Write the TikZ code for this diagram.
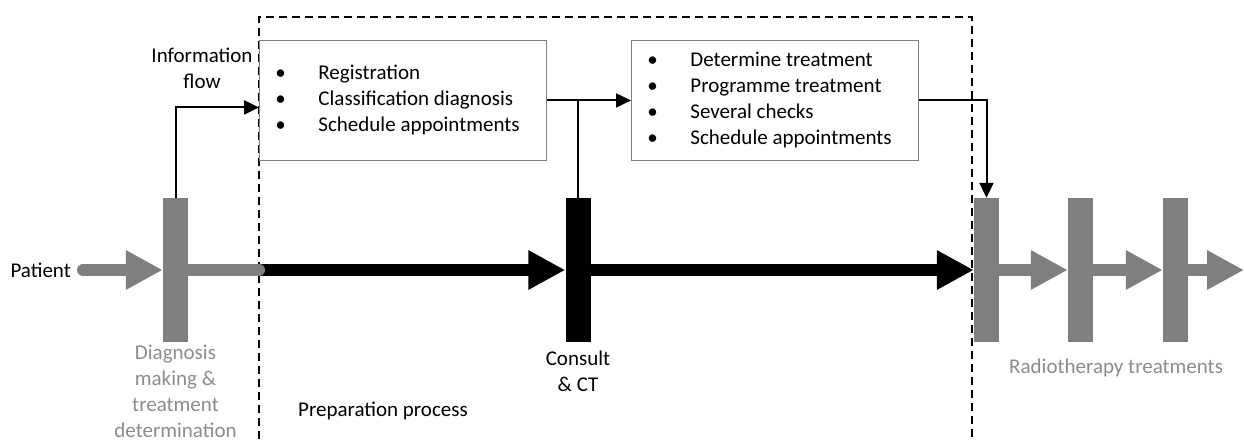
\documentclass[tikz,border=0pt]{standalone}
\usepackage{fontspec}
\setmainfont{Carlito}
\usetikzlibrary{arrows.meta,calc}
\definecolor{bargray}{HTML}{7F7F7F}
\definecolor{labelgray}{HTML}{8C8C8C}
\definecolor{boxgray}{HTML}{7F7F7F}
\begin{document}
\begin{tikzpicture}[x=1pt,y=-1pt,
  font=\fontsize{21}{26}\selectfont,
  bar/.style={rectangle,inner sep=0pt,minimum width=25pt,minimum height=144pt},
  graybar/.style={bar,fill=bargray},
  blackbar/.style={bar,fill=black},
  taskbox/.style={rectangle,draw=boxgray,line width=0.9pt,fill=white,
    anchor=north west,inner xsep=16pt,inner ysep=0pt,minimum height=120pt},
  info/.style={line width=2pt,-{Triangle[length=15pt,width=14pt]}},
  flow/.style={line width=12pt,-{Triangle[length=37pt,width=37pt]}},
  grayflow/.style={flow,draw=bargray,color=bargray},
  blackflow/.style={flow,draw=black},
  graylabel/.style={text=labelgray,align=center,inner sep=0pt},
  plainlabel/.style={align=center,inner sep=0pt},
]
\useasboundingbox (0,0) rectangle (1244,439);

% preparation process frame
\draw[line width=1.1pt,dash pattern=on 8pt off 5pt]
  (259,439) -- (259,17) -- (972,17) -- (972,439);

% task boxes
\node[taskbox,minimum width=287pt] (box1) at (259,40) {%
  \makebox[255pt][l]{\begin{tabular}{@{}p{43pt}@{}l@{}}
  \textbullet & Registration\\
  \textbullet & Classification diagnosis\\
  \textbullet & Schedule appointments
  \end{tabular}}};
\node[taskbox,minimum width=287pt] (box2) at (631,40) {%
  \makebox[255pt][l]{\begin{tabular}{@{}p{43pt}@{}l@{}}
  \textbullet & Determine treatment\\
  \textbullet & Programme treatment\\
  \textbullet & Several checks\\
  \textbullet & Schedule appointments
  \end{tabular}}};

% process bars
\node[graybar]  (bar1) at (175.5,270) {};
\node[blackbar] (bar2) at (578,270) {};
\node[graybar]  (bar3) at (986.5,270) {};
\node[graybar]  (bar4) at (1080.5,270) {};
\node[graybar]  (bar5) at (1175.5,270) {};

% patient flow
\coordinate (start) at (83,270);
\coordinate (handover) at (259,270);
\coordinate (out) at (1244,270);
\draw[blackflow] (handover) -- (bar2.west);
\draw[blackflow] (bar2.east) -- (bar3.west);
\draw[grayflow,line cap=round] (start) -- (bar1.west);
\draw[line width=12pt,draw=bargray,line cap=round] (bar1.east) -- (handover);
\draw[grayflow] (bar3.east) -- (bar4.west);
\draw[grayflow] (bar4.east) -- (bar5.west);
\draw[grayflow] (bar5.east) -- (out);

% information flow
\draw[info] (bar1.north) |- ([yshift=-7pt]box1.west);
\draw[info] (box1.east) -- (box2.west);
\draw[line width=2pt] (bar2.north) -- (bar2.north |- box1.east);
\draw[info] (box2.east) -| (bar3.north);

% labels
\node[plainlabel,anchor=east] (patient) at (71,270) {Patient};
\node[plainlabel] (infolabel) at (202,68) {Information\\flow};
\node[graylabel,anchor=north] (diaglabel) at (175.5,345)
  {Diagnosis\\making \&\\treatment\\determination};
\node[plainlabel,anchor=north] (consultlabel) at (578,351) {Consult\\\& CT};
\node[plainlabel,anchor=west] (preplabel) at (298,411) {Preparation process};
\node[graylabel,anchor=west] (rtlabel) at (1009,368) {Radiotherapy treatments};
\end{tikzpicture}
\end{document}
